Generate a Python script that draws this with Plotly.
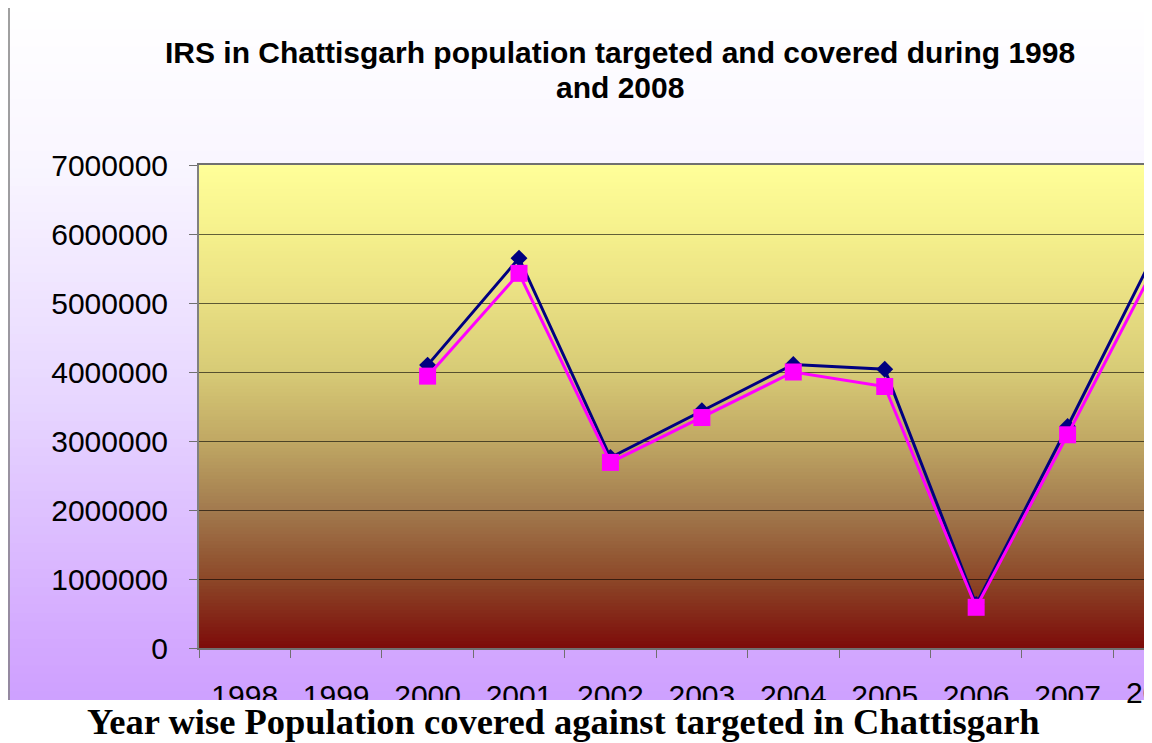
import plotly.graph_objects as go

# ---------------- data ----------------
years = ['1998', '1999', '2000', '2001', '2002', '2003', '2004', '2005', '2006', '2007', '2008']
targeted = [None, None, 4100000, 5650000, 2760000, 3440000, 4110000, 4040000, 630000, 3210000, 5850000]
covered = [None, None, 3940000, 5430000, 2690000, 3340000, 4000000, 3790000, 590000, 3090000, 5650000]
y_tick_vals = [0, 1000000, 2000000, 3000000, 4000000, 5000000, 6000000, 7000000]
title_line1 = "IRS in Chattisgarh population targeted and covered during 1998"
title_line2 = "and 2008"
caption = "Year wise Population covered against targeted in Chattisgarh"

# ---------------- geometry (page has an 8px body margin) ----------------
OFF = 8
W, H = 1152 - OFF, 743 - OFF
P_L, P_R, P_T, P_B = 199, 1145, 165, 648          # plot box in page pixels
ML, MT = P_L - OFF, P_T - OFF
PW, PH = P_R - P_L, P_B - P_T
MR, MB = W - ML - PW, H - MT - PH
CAT_W = 91.43
X_MAX = PW / CAT_W - 0.5


def px_x(px):
    return (px - P_L) / PW


def px_y(py):
    return (P_B - py) / PH


def interp(stops, t):
    for (t0, c0), (t1, c1) in zip(stops[:-1], stops[1:]):
        if t0 <= t <= t1:
            f = (t - t0) / (t1 - t0) if t1 > t0 else 0
            c = [round(a + (b - a) * f) for a, b in zip(c0, c1)]
            return "rgb(%d,%d,%d)" % tuple(c)
    c = stops[-1][1]
    return "rgb(%d,%d,%d)" % tuple(c)


bg_stops = [(0.0, (255, 255, 255)), (0.23, (249, 246, 255)), (0.57, (231, 214, 255)),
            (0.92, (211, 168, 255)), (1.0, (206, 160, 255))]
plot_stops = [(0.0, (255, 255, 153)), (0.143, (245, 240, 140)), (0.286, (232, 222, 130)),
              (0.429, (215, 202, 118)), (0.571, (192, 168, 100)), (0.714, (162, 122, 78)),
              (0.857, (140, 72, 40)), (1.0, (125, 12, 10))]

shapes = []
# outer chart-area gradient
n = 80
top, bot = 3, 700
for i in range(n):
    y0 = top + (bot - top) * i / n
    y1 = min(top + (bot - top) * (i + 1) / n + 0.8, bot)
    shapes.append(dict(type='rect', xref='paper', yref='paper',
                       x0=px_x(8), x1=px_x(1145), y0=px_y(y1), y1=px_y(y0),
                       fillcolor=interp(bg_stops, (i + 0.5) / n), line=dict(width=0), layer='below'))
# plot-area gradient
m = 140
for i in range(m):
    f0 = i / m
    f1 = min((i + 1) / m + 0.002, 1)
    shapes.append(dict(type='rect', xref='paper', yref='paper',
                       x0=0, x1=1, y0=1 - f1, y1=1 - f0,
                       fillcolor=interp(plot_stops, (i + 0.5) / m), line=dict(width=0), layer='below'))
# outer border (left & top)
shapes.append(dict(type='line', xref='paper', yref='paper', x0=px_x(9), x1=px_x(9),
                   y0=px_y(700), y1=px_y(3.5), line=dict(color='#808080', width=1.5), layer='below'))
shapes.append(dict(type='line', xref='paper', yref='paper', x0=px_x(9), x1=px_x(1145),
                   y0=px_y(3.5), y1=px_y(3.5), line=dict(color='#808080', width=1.5), layer='below'))
# white caption band
shapes.append(dict(type='rect', xref='paper', yref='paper', x0=px_x(-20), x1=px_x(1200),
                   y0=px_y(760), y1=px_y(700), fillcolor='white', line=dict(width=0), layer='above'))

fig = go.Figure()
fig.add_trace(go.Scatter(x=years, y=targeted, mode='lines+markers', name='Targeted',
                         line=dict(color='#000080', width=3),
                         marker=dict(symbol='diamond', size=13, color='#000080')))
fig.add_trace(go.Scatter(x=years, y=covered, mode='lines+markers', name='Covered',
                         line=dict(color='#FF00FF', width=3),
                         marker=dict(symbol='square', size=17, color='#FF00FF')))

font_sans = "Arial, Liberation Sans, sans-serif"
annotations = [
    dict(text=title_line1, xref='paper', yref='paper', x=px_x(620), y=px_y(52.9),
         xanchor='center', yanchor='middle', showarrow=False,
         font=dict(family=font_sans, size=30, color='black', weight='bold')),
    dict(text=title_line2, xref='paper', yref='paper', x=px_x(620), y=px_y(87.6),
         xanchor='center', yanchor='middle', showarrow=False,
         font=dict(family=font_sans, size=30, color='black', weight='bold')),
    dict(text=caption, xref='paper', yref='paper', x=px_x(563), y=px_y(721.1),
         xanchor='center', yanchor='middle', showarrow=False,
         font=dict(family="Times New Roman, Liberation Serif, serif", size=36.5, color='black', weight='bold')),
    dict(text=years[-1], xref='paper', yref='paper', x=px_x(P_L + (len(years) - 0.5) * CAT_W), y=px_y(692),
         xanchor='center', yanchor='middle', showarrow=False,
         font=dict(family=font_sans, size=30, color='black')),
]

fig.update_layout(
    width=W, height=H,
    margin=dict(l=ML, r=MR, t=MT, b=MB, pad=0),
    paper_bgcolor='white', plot_bgcolor='rgba(0,0,0,0)',
    showlegend=False,
    shapes=shapes,
    annotations=annotations,
    font=dict(family=font_sans, color='black'),
)
fig.update_xaxes(type='category', categoryorder='array', categoryarray=years,
                 range=[-0.5, X_MAX], showgrid=False, zeroline=False,
                 showline=True, linecolor='#707070', linewidth=2, mirror=True,
                 ticks='outside', tickson='boundaries', ticklen=8, tickcolor='#707070', tickwidth=1,
                 tickfont=dict(family=font_sans, size=30, color='black'), ticklabelstandoff=20)
fig.update_yaxes(range=[0, 7000000], tickvals=y_tick_vals, tickformat='d',
                 showgrid=True, gridcolor='rgba(0,0,0,0.6)', gridwidth=1, zeroline=False,
                 showline=True, linecolor='#808080', linewidth=2,
                 ticks='outside', ticklen=8, tickcolor='#707070', tickwidth=1,
                 tickfont=dict(family=font_sans, size=30, color='black'), ticklabelstandoff=15)

fig.write_html("out.html")
